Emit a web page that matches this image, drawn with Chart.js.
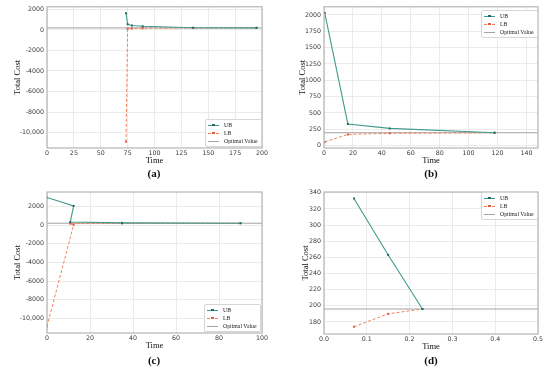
<!DOCTYPE html>
<html>
<head>
<meta charset="utf-8">
<script src="https://cdn.jsdelivr.net/npm/chart.js@4.4.1/dist/chart.umd.min.js"></script>
<style>
  body { margin: 0; background: #fff; }
  #wrap { position: relative; width: 550px; height: 376px; overflow: hidden; }
  .panel { position: absolute; }
  .cap { position: absolute; transform: translate(-50%, -50%); font: bold 11px "Liberation Serif", serif; color: #111; }
  .leg { position: absolute; background: rgba(255,255,255,0.92); border: 1px solid #d6d6d6; border-radius: 2px;
         padding: 1px 3px 1px 2px; font: 5.8px "Liberation Serif", serif; color: #222; }
  .leg div { display: flex; align-items: center; height: 8px; white-space: nowrap; }
  .leg i { position: relative; display: inline-block; width: 11px; margin-right: 5px; border-top: 1px solid; }
  .leg i b { position: absolute; left: 4px; top: -2px; width: 2.5px; height: 2.5px; }
</style>
</head>
<body>
<div id="wrap">
  <div class="panel" style="left:0;top:0"><canvas id="ca" width="275" height="180"></canvas></div>
  <div class="panel" style="left:275px;top:0"><canvas id="cb" width="275" height="180"></canvas></div>
  <div class="panel" style="left:0;top:180px"><canvas id="cc" width="275" height="196"></canvas></div>
  <div class="panel" style="left:275px;top:180px"><canvas id="cd" width="275" height="196"></canvas></div>
  <div class="cap" style="left:154px;top:173px">(a)</div>
  <div class="cap" style="left:431px;top:173px">(b)</div>
  <div class="cap" style="left:154px;top:360px">(c)</div>
  <div class="cap" style="left:431px;top:360px">(d)</div>
</div>
<script>
// values
const optimalValue = 196;
const seriesNames = ['UB', 'LB', 'Optimal Value'];

const aTime = [73.5, 75, 79, 89, 136, 195];
const aUB = [1620, 540, 420, 350, 210, 198];
const aLB = [-10900, 120, 140, 160, 185, 196];
const aXTicks = [0, 25, 50, 75, 100, 125, 150, 175, 200];
const aYTicks = [-10000, -8000, -6000, -4000, -2000, 0, 2000];

const bTime = [0.5, 16.5, 45.5, 118];
const bUB = [2030, 330, 262, 196];
const bLB = [55, 170, 187, 196];
const bXTicks = [0, 20, 40, 60, 80, 100, 120, 140];
const bYTicks = [0, 250, 500, 750, 1000, 1250, 1500, 1750, 2000];

const cTime = [0, 12.4, 10.8, 34.9, 90];
const cUB = [2950, 2050, 320, 230, 196];
const cLB = [-10850, 30, 150, 170, 190];
const cXTicks = [0, 20, 40, 60, 80, 100];
const cYTicks = [-10000, -8000, -6000, -4000, -2000, 0, 2000];

const dTime = [0.07, 0.15, 0.23];
const dUB = [333, 263, 196];
const dLB = [174, 190, 196];
const dXTicks = [0, 0.1, 0.2, 0.3, 0.4, 0.5];
const dYTicks = [180, 200, 220, 240, 260, 280, 300, 320, 340];

const ubColor = '#3f9a8e', ubMarker = '#1f6b63';
const lbColor = '#f2805f', lbMarker = '#e35a3b';
const optColor = '#a3a3a3';

const frame = {
  id: 'frame',
  afterDraw(chart) {
    const { ctx, chartArea: a } = chart;
    ctx.save();
    ctx.strokeStyle = '#b5b5b5';
    ctx.lineWidth = 1.2;
    ctx.strokeRect(a.left, a.top, a.right - a.left, a.bottom - a.top);
    ctx.restore();
  }
};

function fmtY(v) {
  return v === -10000 ? '-10,000' : String(v);
}

function makeChart(id, o) {
  const pts = (ys) => o.time.map((t, i) => ({ x: t, y: ys[i] }));
  new Chart(document.getElementById(id), {
    type: 'line',
    data: {
      datasets: [
        {
          label: seriesNames[0], data: pts(o.ub),
          borderColor: ubColor, borderWidth: 1.1,
          pointStyle: 'rect', pointRadius: 1.4, pointBackgroundColor: ubMarker, pointBorderColor: ubMarker, pointBorderWidth: 0
        },
        {
          label: seriesNames[1], data: pts(o.lb),
          borderColor: lbColor, borderWidth: 1, borderDash: [3, 2],
          pointStyle: 'rect', pointRadius: 1.4, pointBackgroundColor: lbMarker, pointBorderColor: lbMarker, pointBorderWidth: 0
        },
        {
          label: seriesNames[2], data: [{ x: o.xmin, y: optimalValue }, { x: o.xmax, y: optimalValue }],
          borderColor: optColor, borderWidth: 1, pointRadius: 0
        }
      ]
    },
    options: {
      responsive: false,
      animation: false,
      events: [],
      layout: { padding: o.pad },
      plugins: { legend: { display: false }, tooltip: { enabled: false } },
      scales: {
        x: {
          type: 'linear', min: o.xmin, max: o.xmax,
          afterBuildTicks: (s) => { s.ticks = o.xTicks.map(v => ({ value: v })); },
          afterFit: (s) => { s.height = 20; },
          grid: { color: '#e6e6e6', lineWidth: 0.8, drawTicks: false },
          border: { display: false },
          ticks: {
            autoSkip: false, maxRotation: 0, padding: 2, color: '#3a3a3a',
            font: { family: 'DejaVu Sans', size: 6.3 },
            callback: o.xFmt
          },
          title: { display: true, text: 'Time', color: '#111', padding: { top: 0, bottom: 2 },
                   font: { family: 'Liberation Serif', size: 8.5 } }
        },
        y: {
          type: 'linear', min: o.ymin, max: o.ymax,
          afterBuildTicks: (s) => { s.ticks = o.yTicks.map(v => ({ value: v })); },
          afterFit: (s) => { s.width = o.yWidth; },
          grid: { color: '#e6e6e6', lineWidth: 0.8, drawTicks: false },
          border: { display: false },
          ticks: {
            autoSkip: false, padding: 3, color: '#3a3a3a',
            font: { family: 'DejaVu Sans', size: 6.3 },
            callback: fmtY
          },
          title: { display: true, text: 'Total Cost', color: '#111', padding: { top: o.titlePad, bottom: 0 },
                   font: { family: 'Liberation Serif', size: 8.5 } }
        }
      }
    },
    plugins: [frame]
  });
}

const intFmt = (v) => String(v);
const decFmt = (v) => v.toFixed(1);

makeChart('ca', { time: aTime, ub: aUB, lb: aLB, xTicks: aXTicks, yTicks: aYTicks,
  xmin: 0, xmax: 200, ymin: -11500, ymax: 2250, yWidth: 47, titlePad: 13,
  pad: { left: 0, right: 13, top: 6, bottom: 12 }, xFmt: intFmt });
makeChart('cb', { time: bTime, ub: bUB, lb: bLB, xTicks: bXTicks, yTicks: bYTicks,
  xmin: 0, xmax: 148, ymin: -38, ymax: 2125, yWidth: 49, titlePad: 23,
  pad: { left: 0, right: 12, top: 6, bottom: 12 }, xFmt: intFmt });
makeChart('cc', { time: cTime, ub: cUB, lb: cLB, xTicks: cXTicks, yTicks: cYTicks,
  xmin: 0, xmax: 100, ymin: -11560, ymax: 3540, yWidth: 47, titlePad: 13,
  pad: { left: 0, right: 13, top: 12, bottom: 23 }, xFmt: intFmt });
makeChart('cd', { time: dTime, ub: dUB, lb: dLB, xTicks: dXTicks, yTicks: dYTicks,
  xmin: 0, xmax: 0.5, ymin: 165, ymax: 341, yWidth: 49, titlePad: 26,
  pad: { left: 0, right: 12, top: 12, bottom: 22 }, xFmt: decFmt });

// legends drawn as html boxes inside each plot
const legendPos = [[205, 119], [481, 10], [204, 304], [481, 192]];
legendPos.forEach(([l, t]) => {
  const box = document.createElement('div');
  box.className = 'leg';
  box.style.left = l + 'px';
  box.style.top = t + 'px';
  box.innerHTML =
    `<div><i style="border-top-color:${ubColor}"><b style="background:${ubMarker}"></b></i>${seriesNames[0]}</div>` +
    `<div><i style="border-top:1px dashed ${lbColor}"><b style="background:${lbMarker}"></b></i>${seriesNames[1]}</div>` +
    `<div><i style="border-top-color:${optColor}"></i>${seriesNames[2]}</div>`;
  document.getElementById('wrap').appendChild(box);
});
</script>
</body>
</html>
